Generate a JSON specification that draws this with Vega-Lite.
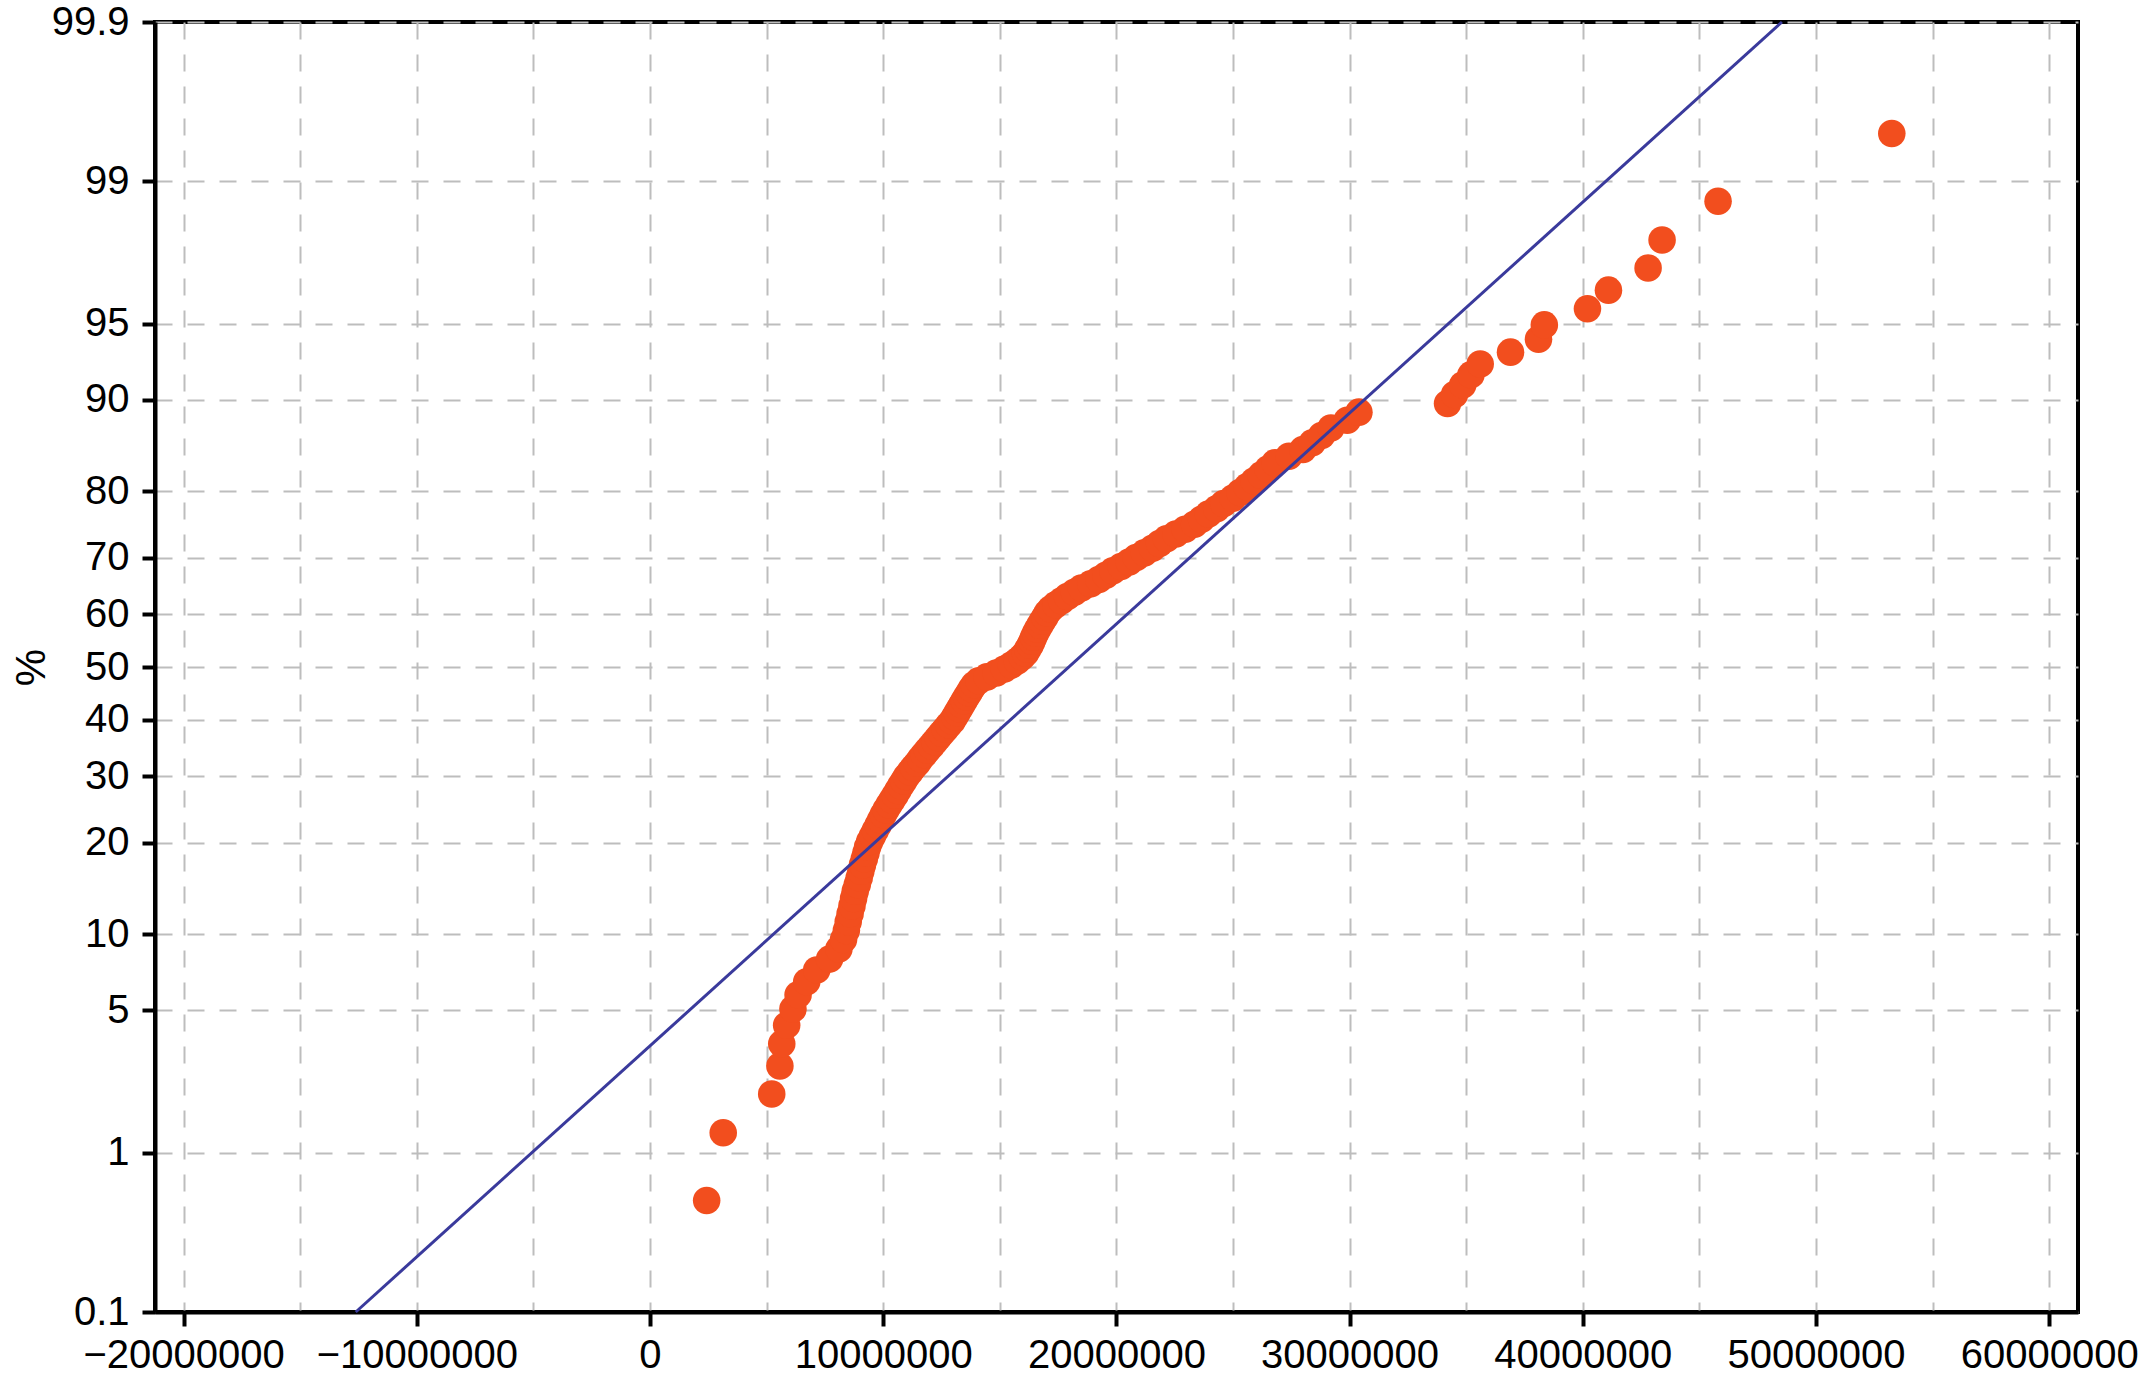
{
  "$schema": "https://vega.github.io/schema/vega-lite/v6.json",
  "width": 1923,
  "height": 1290,
  "autosize": {"type": "none"},
  "padding": {"left": 155, "top": 22, "right": 68, "bottom": 64},
  "background": "white",
  "config": {
    "view": {"stroke": "black", "strokeWidth": 4},
    "font": "Liberation Sans"
  },
  "datasets": {
    "obs": [
      {"x": 2430000, "pct": 0.529}, {"x": 3140000, "pct": 1.284}, {"x": 5220000, "pct": 2.039}, {"x": 5570000, "pct": 2.795},
      {"x": 5650000, "pct": 3.550}, {"x": 5860000, "pct": 4.305}, {"x": 6130000, "pct": 5.060}, {"x": 6350000, "pct": 5.816},
      {"x": 6720000, "pct": 6.571}, {"x": 7150000, "pct": 7.326}, {"x": 7700000, "pct": 8.082}, {"x": 8100000, "pct": 8.837},
      {"x": 8300000, "pct": 9.592}, {"x": 8420000, "pct": 10.347}, {"x": 8500000, "pct": 11.103}, {"x": 8580000, "pct": 11.858},
      {"x": 8660000, "pct": 12.613}, {"x": 8730000, "pct": 13.369}, {"x": 8800000, "pct": 14.124}, {"x": 8890000, "pct": 14.879},
      {"x": 8970000, "pct": 15.634}, {"x": 9040000, "pct": 16.390}, {"x": 9110000, "pct": 17.145}, {"x": 9190000, "pct": 17.900},
      {"x": 9260000, "pct": 18.656}, {"x": 9330000, "pct": 19.411}, {"x": 9420000, "pct": 20.166}, {"x": 9540000, "pct": 20.921},
      {"x": 9660000, "pct": 21.677}, {"x": 9780000, "pct": 22.432}, {"x": 9890000, "pct": 23.187}, {"x": 10000000, "pct": 23.943},
      {"x": 10120000, "pct": 24.698}, {"x": 10250000, "pct": 25.453}, {"x": 10380000, "pct": 26.208}, {"x": 10510000, "pct": 26.964},
      {"x": 10630000, "pct": 27.719}, {"x": 10750000, "pct": 28.474}, {"x": 10880000, "pct": 29.230}, {"x": 11000000, "pct": 29.985},
      {"x": 11150000, "pct": 30.740}, {"x": 11300000, "pct": 31.495}, {"x": 11460000, "pct": 32.251}, {"x": 11600000, "pct": 33.006},
      {"x": 11750000, "pct": 33.761}, {"x": 11900000, "pct": 34.517}, {"x": 12060000, "pct": 35.272}, {"x": 12210000, "pct": 36.027},
      {"x": 12360000, "pct": 36.782}, {"x": 12510000, "pct": 37.538}, {"x": 12660000, "pct": 38.293}, {"x": 12810000, "pct": 39.048},
      {"x": 12960000, "pct": 39.804}, {"x": 13070000, "pct": 40.559}, {"x": 13170000, "pct": 41.314}, {"x": 13270000, "pct": 42.069},
      {"x": 13370000, "pct": 42.825}, {"x": 13470000, "pct": 43.580}, {"x": 13570000, "pct": 44.335}, {"x": 13680000, "pct": 45.091},
      {"x": 13780000, "pct": 45.846}, {"x": 13900000, "pct": 46.601}, {"x": 14100000, "pct": 47.356}, {"x": 14450000, "pct": 48.112},
      {"x": 14850000, "pct": 48.867}, {"x": 15200000, "pct": 49.622}, {"x": 15500000, "pct": 50.378}, {"x": 15750000, "pct": 51.133},
      {"x": 15950000, "pct": 51.888}, {"x": 16100000, "pct": 52.644}, {"x": 16200000, "pct": 53.399}, {"x": 16300000, "pct": 54.154},
      {"x": 16380000, "pct": 54.909}, {"x": 16450000, "pct": 55.665}, {"x": 16530000, "pct": 56.420}, {"x": 16620000, "pct": 57.175},
      {"x": 16720000, "pct": 57.931}, {"x": 16820000, "pct": 58.686}, {"x": 16930000, "pct": 59.441}, {"x": 17030000, "pct": 60.196},
      {"x": 17180000, "pct": 60.952}, {"x": 17400000, "pct": 61.707}, {"x": 17650000, "pct": 62.462}, {"x": 17900000, "pct": 63.218},
      {"x": 18200000, "pct": 63.973}, {"x": 18500000, "pct": 64.728}, {"x": 18900000, "pct": 65.483}, {"x": 19250000, "pct": 66.239},
      {"x": 19550000, "pct": 66.994}, {"x": 19850000, "pct": 67.749}, {"x": 20200000, "pct": 68.505}, {"x": 20550000, "pct": 69.260},
      {"x": 20850000, "pct": 70.015}, {"x": 21200000, "pct": 70.770}, {"x": 21550000, "pct": 71.526}, {"x": 21850000, "pct": 72.281},
      {"x": 22150000, "pct": 73.036}, {"x": 22550000, "pct": 73.792}, {"x": 22950000, "pct": 74.547}, {"x": 23350000, "pct": 75.302},
      {"x": 23650000, "pct": 76.057}, {"x": 23950000, "pct": 76.813}, {"x": 24300000, "pct": 77.568}, {"x": 24600000, "pct": 78.323},
      {"x": 25000000, "pct": 79.079}, {"x": 25300000, "pct": 79.834}, {"x": 25600000, "pct": 80.589}, {"x": 25900000, "pct": 81.344},
      {"x": 26200000, "pct": 82.100}, {"x": 26500000, "pct": 82.855}, {"x": 26800000, "pct": 83.610}, {"x": 27400000, "pct": 84.366},
      {"x": 28000000, "pct": 85.121}, {"x": 28400000, "pct": 85.876}, {"x": 28800000, "pct": 86.631}, {"x": 29200000, "pct": 87.387},
      {"x": 29900000, "pct": 88.142}, {"x": 30400000, "pct": 88.897}, {"x": 34200000, "pct": 89.653}, {"x": 34500000, "pct": 90.408},
      {"x": 34850000, "pct": 91.163}, {"x": 35200000, "pct": 91.918}, {"x": 35600000, "pct": 92.674}, {"x": 36900000, "pct": 93.429},
      {"x": 38100000, "pct": 94.184}, {"x": 38350000, "pct": 94.940}, {"x": 40200000, "pct": 95.695}, {"x": 41100000, "pct": 96.450},
      {"x": 42800000, "pct": 97.205}, {"x": 43400000, "pct": 97.961}, {"x": 45800000, "pct": 98.716}, {"x": 53250000, "pct": 99.471}
    ],
    "fit": [
      {"x": -12616000, "pct": 0.1},
      {"x": 48540000, "pct": 99.9}
    ]
  },
  "layer": [
    {
      "data": {"name": "obs"},
      "transform": [{"calculate": "quantileNormal(datum.pct / 100)", "as": "z"}],
      "mark": {"type": "circle", "size": 760, "color": "#f24e1e", "opacity": 1},
      "encoding": {
        "x": {
          "field": "x",
          "type": "quantitative",
          "scale": {"domain": [-21226000, 61235000], "nice": false, "zero": false},
          "axis": {
            "title": null,
            "values": [-20000000, -15000000, -10000000, -5000000, 0, 5000000, 10000000, 15000000, 20000000, 25000000, 30000000, 35000000, 40000000, 45000000, 50000000, 55000000, 60000000],
            "grid": true,
            "gridColor": "#bdbdbd",
            "gridDash": [17, 15],
            "gridWidth": 2,
            "domainColor": "black",
            "domainWidth": 4,
            "tickColor": "black",
            "tickWidth": 4,
            "tickSize": 14,
            "tickOpacity": {"condition": {"test": "datum.value % 10000000 === 0", "value": 1}, "value": 0},
            "labelExpr": "datum.value % 10000000 === 0 ? format(datum.value, 'd') : ''",
            "labelFontSize": 40,
            "labelColor": "black",
            "labelPadding": 9,
            "labelLimit": 0,
            "labelFlush": false,
            "labelOverlap": false,
            "labelBound": false
          }
        },
        "y": {
          "field": "z",
          "type": "quantitative",
          "scale": {"domain": [-3.09023, 3.09023], "nice": false, "zero": false},
          "axis": {
            "title": "%",
            "titleFontSize": 42,
            "titleFontWeight": "normal",
            "titleColor": "black",
            "titlePadding": -2,
            "values": [-3.09023, -2.32635, -1.64485, -1.28155, -0.84162, -0.5244, -0.25335, 0, 0.25335, 0.5244, 0.84162, 1.28155, 1.64485, 2.32635, 3.09023],
            "labelExpr": "format(cumulativeNormal(datum.value) * 100, '.1~f')",
            "grid": true,
            "gridColor": "#bdbdbd",
            "gridDash": [17, 15],
            "gridWidth": 2,
            "domainColor": "black",
            "domainWidth": 4,
            "tickColor": "black",
            "tickWidth": 4,
            "tickSize": 13,
            "labelFontSize": 40,
            "labelColor": "black",
            "labelPadding": 13,
            "labelLimit": 0,
            "labelOverlap": false,
            "labelBound": false,
            "labelFlush": false
          }
        }
      }
    },
    {
      "data": {"name": "fit"},
      "transform": [{"calculate": "quantileNormal(datum.pct / 100)", "as": "z"}],
      "mark": {"type": "line", "color": "#3a3a9c", "strokeWidth": 3},
      "encoding": {
        "x": {"field": "x", "type": "quantitative"},
        "y": {"field": "z", "type": "quantitative"}
      }
    }
  ]
}
